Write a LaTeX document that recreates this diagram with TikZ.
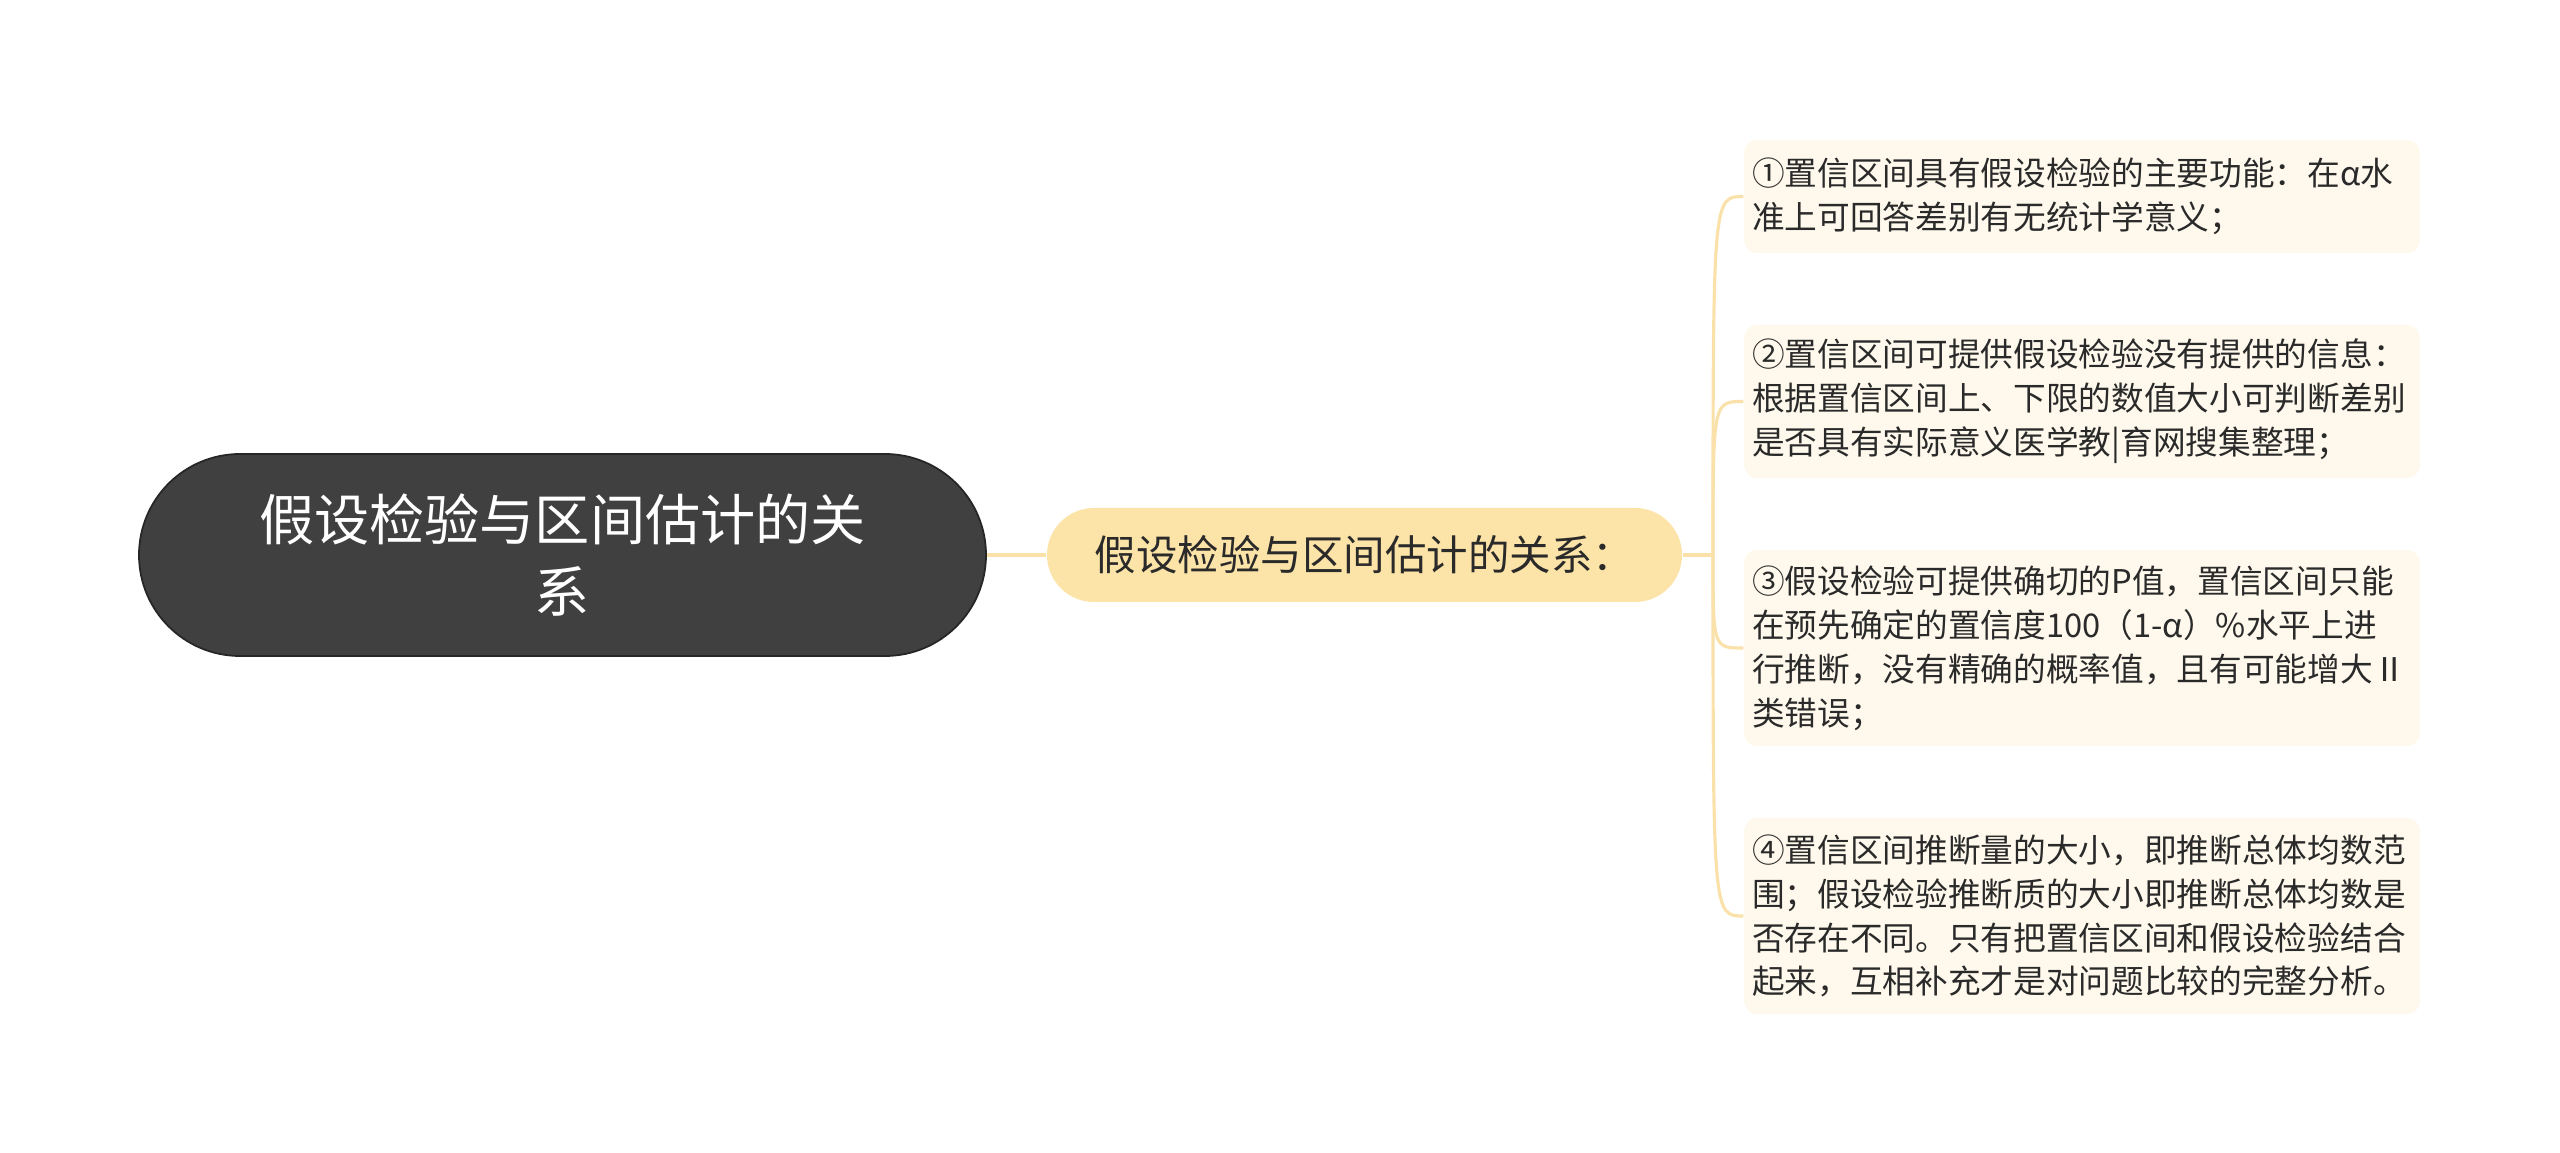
\documentclass[tikz,border=0pt]{standalone}
\usepackage{fontspec}
\setmainfont{Noto Sans CJK SC}
\usepackage{tikz}

\definecolor{rootgray}{HTML}{404040}
\definecolor{midyellow}{HTML}{FCE3A7}
\definecolor{linkyellow}{HTML}{FAE1AA}
\definecolor{leafcream}{HTML}{FEF9EC}
\definecolor{inkgray}{HTML}{2A2A2A}

\begin{document}
\begin{tikzpicture}[
    rootbox/.style={fill=rootgray, draw=black!85, line width=0.5pt, text=white,
        minimum width=8.47cm, minimum height=2.02cm, rounded corners=1.01cm,
        align=center, font=\fontsize{15.7}{20.4}\selectfont},
    midbox/.style={fill=midyellow, text=inkgray, minimum width=6.35cm,
        minimum height=0.94cm, rounded corners=0.47cm,
        font=\fontsize{11.8}{14}\selectfont},
    leafbox/.style={fill=leafcream, text=inkgray, text width=6.6cm, align=left,
        inner xsep=0.08cm, rounded corners=0.13cm,
        font=\fontsize{9.3}{12.5}\selectfont},
    trunk/.style={draw=linkyellow, line width=1.4pt},
    branch/.style={draw=linkyellow, line width=0.9pt}
]
    \useasboundingbox (0,0) rectangle (25.6,-11.53);

    \node[rootbox] (root) at (5.625,-5.55) {假设检验与区间估计的关\\系};
    \node[midbox] (mid) at (13.645,-5.55) {假设检验与区间估计的关系：};

    \node[leafbox, minimum height=1.13cm] (l1) at (20.82,-1.965)
        {①置信区间具有假设检验的主要功能：在α水\\准上可回答差别有无统计学意义；};
    \node[leafbox, minimum height=1.53cm] (l2) at (20.82,-4.015)
        {②置信区间可提供假设检验没有提供的信息：\\根据置信区间上、下限的数值大小可判断差别\\是否具有实际意义医学教|育网搜集整理；};
    \node[leafbox, minimum height=1.96cm] (l3) at (20.82,-6.48)
        {③假设检验可提供确切的P值，置信区间只能\\在预先确定的置信度100（1-α）\%水平上进\\行推断，没有精确的概率值，且有可能增大Ⅱ\\类错误；};
    \node[leafbox, minimum height=1.96cm] (l4) at (20.82,-9.16)
        {④置信区间推断量的大小，即推断总体均数范\\围；假设检验推断质的大小即推断总体均数是\\否存在不同。只有把置信区间和假设检验结合\\起来，互相补充才是对问题比较的完整分析。};

    \coordinate (j) at (17.13,-5.55);
    \draw[trunk] (root.east) -- (mid.west);
    \draw[branch] (mid.east) -- (j);
    \foreach \leaf in {l1,l2,l3,l4}
        \draw[branch] (j) .. controls (j |- \leaf.west) and (j |- \leaf.west) .. (\leaf.west);
\end{tikzpicture}
\end{document}
